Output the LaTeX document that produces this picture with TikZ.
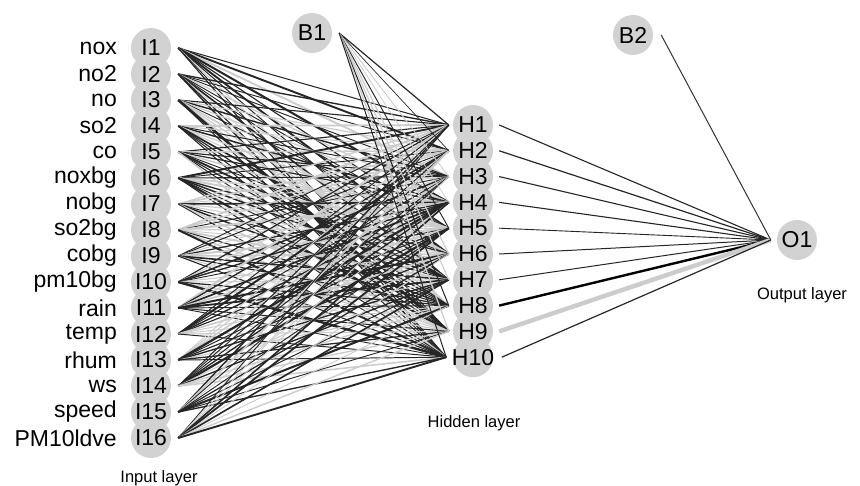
\documentclass[tikz,border=0pt]{standalone}
\usepackage{fontspec}
\setmainfont{Liberation Sans}
\begin{document}
\begin{tikzpicture}[x=1pt,y=-1pt,
  neuron/.style={circle,minimum size=40pt,inner sep=0pt,font=\fontsize{23}{23}\selectfont},
  disc/.style={fill=gray!35},
  varname/.style={anchor=east,inner sep=0pt,font=\fontsize{23}{23}\selectfont},
  layername/.style={inner sep=0pt,font=\fontsize{16.5}{16.5}\selectfont}]
\useasboundingbox (0,0) rectangle (860,486);
% grey discs first, so that no disc covers a label
\foreach \i in {1,...,16}
  \fill[disc] (151,{48+26*(\i-1)}) circle (20);
\foreach \h in {1,...,10}
  \fill[disc] (473,{125+25.8*(\h-1)}) circle (20);
\fill[disc] (312,33) circle (20);
\fill[disc] (633,35) circle (20);
\fill[disc] (797,240) circle (20);
% input layer
\foreach \lab [count=\i] in {nox,no2,no,so2,co,noxbg,nobg,so2bg,cobg,pm10bg,rain,temp,rhum,ws,speed,PM10ldve}{
  \node[neuron] (I\i) at (151,{48+26*(\i-1)}) {I\i};
  \node[varname] (v\i) at (117,{48+26*(\i-1)}) {\lab};
}
% hidden layer and biases
\foreach \h in {1,...,10}
  \node[neuron] (H\h) at (473,{125+25.8*(\h-1)}) {H\h};
\node[neuron] (B1) at (312,33) {B1};
\node[neuron] (B2) at (633,35) {B2};
\node[neuron] (O1) at (797,240) {O1};
\node[layername] (inlab) at (159,478) {Input layer};
\node[layername] (hidlab) at (474,423) {Hidden layer};
\node[layername] (outlab) at (802,295) {Output layer};
% weights input -> hidden
\pgfmathsetseed{42}
\foreach \i in {1,...,16}
  \foreach \h in {1,...,10}{
    \pgfmathsetmacro\wd{0.9+1.8*rnd*rnd}
    \pgfmathtruncatemacro\pos{rnd<0.62}
    \ifnum\pos=1 \def\col{black!85}\else\def\col{gray!40}\fi
    \draw[line width=\wd pt,draw=\col] ([xshift=7pt]I\i.east) -- ([xshift=-4pt]H\h.west);
  }
% bias -> hidden
\foreach \h in {1,...,10}{
  \pgfmathsetmacro\wd{0.5+0.8*rnd}
  \pgfmathtruncatemacro\pos{rnd<0.6}
  \ifnum\pos=1 \def\col{black!85}\else\def\col{gray!40}\fi
  \draw[line width=\wd pt,draw=\col] ([xshift=7pt]B1.east) -- ([xshift=-4pt]H\h.west);
}
% hidden -> output
\foreach \h/\wd/\col in {1/1.1/black!85,2/1.2/black!85,3/1.1/black!85,4/1.1/black!85,5/0.9/black!85,
  6/1.0/black!85,7/1.0/black!85,8/2.4/black,9/4.4/gray!40,10/1.2/black!85}
  \draw[line width=\wd pt,draw=\col] ([xshift=6pt]H\h.east) -- ([xshift=-6pt]O1.west);
\draw[line width=1pt,draw=black!80] ([xshift=8pt]B2.east) -- ([xshift=-6pt]O1.west);
\end{tikzpicture}
\end{document}
